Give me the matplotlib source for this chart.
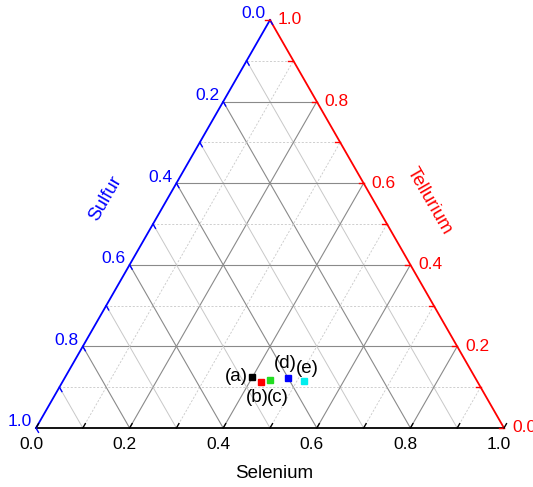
import numpy as np
import matplotlib
matplotlib.use("Agg")
import matplotlib.pyplot as plt

plt.rcParams['font.family'] = ['Liberation Sans', 'DejaVu Sans']

# sample compositions (fractions)
samples = ['(a)', '(b)', '(c)', '(d)', '(e)']
selenium = [0.400, 0.424, 0.440, 0.478, 0.514]
tellurium = [0.124, 0.113, 0.118, 0.122, 0.116]
sulfur = [1 - a - b for a, b in zip(selenium, tellurium)]
colors = ['black', 'red', '#22dd22', 'blue', '#00eeee']
# label offsets (pixels) relative to each marker
label_off = [(-4, 1, 'right', 'center'), (-4, -16, 'center', 'center'),
             (8, -18, 'center', 'center'), (-3, 15, 'center', 'center'),
             (4, 12, 'center', 'center')]

ticks = np.round(np.arange(0, 1.01, 0.1), 1)
major = [0.2, 0.4, 0.6, 0.8]
tick_labels = ['0.0', '0.2', '0.4', '0.6', '0.8', '1.0']

H = np.sqrt(3) / 2
W_PX, H_PX = 468, 408


def tern(se, te):
    se = np.asarray(se); te = np.asarray(te)
    return se + te / 2, te * H


def px(dx, dy):
    return dx / W_PX, dy / H_PX * H


fig = plt.figure(figsize=(5.33, 4.87), dpi=100)
ax = fig.add_axes([36 / 533, 59 / 487, W_PX / 533, H_PX / 487])
ax.set_xlim(0, 1)
ax.set_ylim(0, H)
ax.axis('off')

# grid
for v in ticks[1:-1]:
    is_major = any(abs(v - m) < 1e-9 for m in major)
    # constant tellurium (horizontal)
    x, y = tern([0, 1 - v], [v, v])
    if is_major:
        ax.plot(x, y, color='#8a8a8a', lw=0.8, zorder=1)
    else:
        ax.plot(x, y, color='#c8c8c8', lw=0.6, ls=(0, (2.5, 2)), zorder=1)
    # constant selenium
    x, y = tern([v, v], [0, 1 - v])
    if is_major:
        ax.plot(x, y, color='#8a8a8a', lw=0.8, zorder=1)
    else:
        ax.plot(x, y, color='#c8c8c8', lw=0.6, ls=(0, (2.5, 2)), zorder=1)
    # constant sulfur
    x, y = tern([1 - v, 0], [0, 1 - v])
    if is_major:
        ax.plot(x, y, color='#8a8a8a', lw=0.8, zorder=1)
    else:
        ax.plot(x, y, color='#c8c8c8', lw=0.7, zorder=1)

# edges
ax.plot([0, 1], [0, 0], color='black', lw=1.3, zorder=3, clip_on=False)
ax.plot([0, 0.5], [0, H], color='blue', lw=1.3, zorder=3, clip_on=False)
ax.plot([1, 0.5], [0, H], color='red', lw=1.3, zorder=3, clip_on=False)

# ticks
for v in ticks:
    L = 5
    # selenium (bottom)
    x0, y0 = tern(v, 0)
    dx, dy = px(L * 0.5, L * 0.866)
    ax.plot([x0, x0 + dx], [y0, y0 + dy], color='black', lw=1, zorder=3, clip_on=False)
    # sulfur (left): S = v
    x0, y0 = tern(0, 1 - v)
    dx, dy = px(L * 0.5, -L * 0.866)
    ax.plot([x0, x0 + dx], [y0, y0 + dy], color='blue', lw=1, zorder=3, clip_on=False)
    # tellurium (right)
    x0, y0 = tern(1 - v, v)
    dx, dy = px(-L, 0)
    ax.plot([x0, x0 + dx], [y0, y0 + dy], color='red', lw=1, zorder=3, clip_on=False)

fs = 12.5
for i, lab in enumerate(tick_labels):
    v = float(lab)
    x0, y0 = tern(v, 0)
    ax.annotate(lab, (x0, y0), xytext=(-5, -9), textcoords='offset pixels',
                ha='center', va='top', fontsize=fs, color='black', annotation_clip=False)
    x0, y0 = tern(0, 1 - v)
    ax.annotate(lab, (x0, y0), xytext=(-4, 6), textcoords='offset pixels',
                ha='right', va='center', fontsize=fs, color='blue', annotation_clip=False)
    x0, y0 = tern(1 - v, v)
    ax.annotate(lab, (x0, y0), xytext=(8, 0), textcoords='offset pixels',
                ha='left', va='center', fontsize=fs, color='red', annotation_clip=False)

# axis titles
tx, ty = px(274 - 36, 428 - 474)
ax.text(tx, ty, 'Selenium', ha='center', va='center', fontsize=13.5, clip_on=False)
tx, ty = px(105 - 36, 428 - 199)
ax.text(tx, ty, 'Sulfur', ha='center', va='center', fontsize=13.5, color='blue',
        rotation=60, rotation_mode='anchor', clip_on=False)
tx, ty = px(429 - 36, 428 - 201)
ax.text(tx, ty, 'Tellurium', ha='center', va='center', fontsize=13.5, color='red',
        rotation=-60, rotation_mode='anchor', clip_on=False)

# samples
x, y = tern(selenium, tellurium)
for i in range(len(samples)):
    ax.plot(x[i], y[i], 's', ms=5, color=colors[i], mec=colors[i], zorder=4)
    ox, oy, ha, va = label_off[i]
    ax.annotate(samples[i], (x[i], y[i]), xytext=(ox, oy), textcoords='offset pixels',
                ha=ha, va=va, fontsize=13.5, zorder=5)

fig.savefig('out.png', dpi=100)
